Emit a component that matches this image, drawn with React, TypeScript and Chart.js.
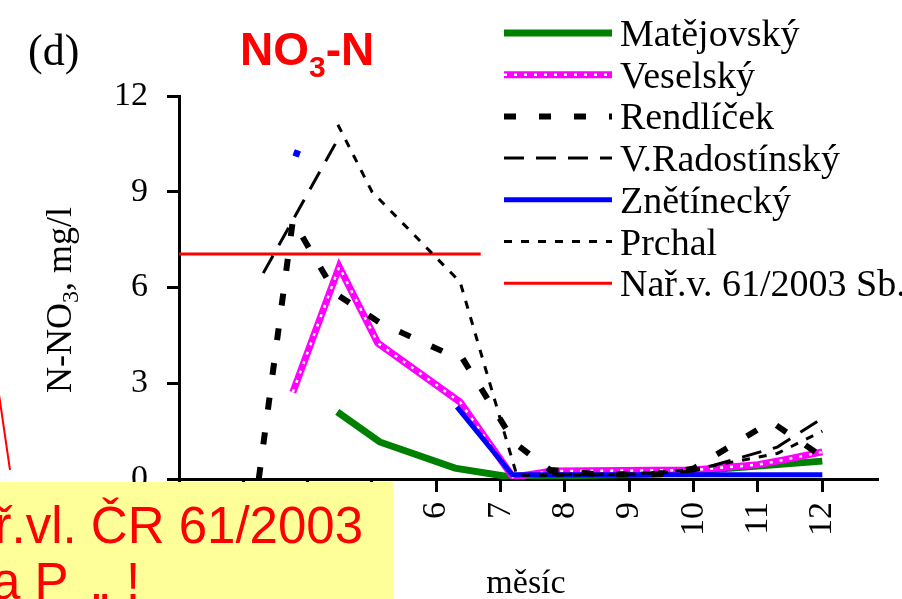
import { useEffect, useRef } from 'react';
import { Chart, registerables } from 'chart.js';

Chart.register(...registerables);

// Axis ticks
const MONTH_TICKS = [2, 3, 4, 5, 6, 7, 8, 9, 10, 11, 12];
const MONTH_MIN = 2;
const MONTH_MAX = 12.85;
const CONC_TICKS = [0, 3, 6, 9, 12];

// N-NO3 (mg/l) per sampling time (month) for each stream
const MATEJOVSKY_MONTH = [4.46, 5.12, 6.29, 7.1, 8, 9.3, 10, 12];
const MATEJOVSKY_N = [2.1, 1.16, 0.34, 0.08, 0.1, 0.15, 0.25, 0.56];

const VESELSKY_MONTH = [3.77, 4.49, 5.09, 6.37, 7.19, 7.8, 10, 11, 11.4, 12];
const VESELSKY_N = [2.72, 6.65, 4.26, 2.41, 0.06, 0.25, 0.28, 0.45, 0.6, 0.85];

const RENDLICEK_MONTH = [3.24, 3.77, 4.44, 5.12, 6.1, 6.37, 7.22, 7.77, 8.5, 9.5, 10, 11.2, 12];
const RENDLICEK_N = [0, 8.1, 5.8, 4.9, 4.0, 3.9, 1.13, 0.28, 0.15, 0.15, 0.33, 1.8, 0.7];

const RADOSTINSKY_MONTH = [3.31, 4.43, 6, 7.8, 9, 10, 11.3, 12];
const RADOSTINSKY_N = [6.45, 10.5, null, 0.15, 0.15, 0.25, 1.0, 1.9];

const ZNETINECKY_MONTH = [3.83, 5, 6.32, 7.18, 8, 9, 10, 11, 12];
const ZNETINECKY_N = [10.2, null, 2.26, 0.13, 0.13, 0.13, 0.13, 0.13, 0.13];

const PRCHAL_MONTH = [4.47, 5.0, 6.37, 7.25, 8, 9, 10, 11.3, 12];
const PRCHAL_N = [11.1, 9.0, 6.17, 0.12, 0.12, 0.15, 0.3, 0.8, 1.5];

// Limit from Nařízení vlády 61/2003 Sb.
const LIMIT_MONTH = [2, 6.69];
const LIMIT_N = [7.05, 7.05];

const SERIF = "'Liberation Serif', 'Times New Roman', serif";
const SANS = "'Liberation Sans', Arial, sans-serif";

const pts = (xs: number[], ys: (number | null)[]) => xs.map((x, i) => ({ x, y: ys[i] }));

// Show a marker only where a value has no neighbours to connect to
const isolated = (ys: (number | null)[]) => (c: any) => {
  const i = c.dataIndex;
  const prev = i > 0 ? ys[i - 1] : null;
  const next = i < ys.length - 1 ? ys[i + 1] : null;
  return ys[i] != null && prev == null && next == null ? 4 : 0;
};

type Run = { text: string; font: string; dy: number };

function drawRuns(ctx: CanvasRenderingContext2D, runs: Run[], x: number, y: number, center: boolean) {
  let total = 0;
  for (const r of runs) {
    ctx.font = r.font;
    total += ctx.measureText(r.text).width;
  }
  let cx = center ? x - total / 2 : x;
  ctx.textAlign = 'left';
  for (const r of runs) {
    ctx.font = r.font;
    ctx.fillText(r.text, cx, y + r.dy);
    cx += ctx.measureText(r.text).width;
  }
}

const decorations = {
  id: 'decorations',
  afterDraw(chart: any) {
    const ctx: CanvasRenderingContext2D = chart.ctx;
    ctx.save();
    ctx.textBaseline = 'alphabetic';

    // panel letter
    ctx.fillStyle = '#000';
    ctx.font = `44px ${SERIF}`;
    ctx.textAlign = 'left';
    ctx.fillText('(d)', 28, 65);

    // chart title
    ctx.fillStyle = '#FF0000';
    drawRuns(ctx, [
      { text: 'NO', font: `bold 46px ${SANS}`, dy: 0 },
      { text: '3', font: `bold 30px ${SANS}`, dy: 12 },
      { text: '-N', font: `bold 46px ${SANS}`, dy: 0 },
    ], 240, 65, false);

    // y-axis title
    ctx.fillStyle = '#000';
    ctx.save();
    ctx.translate(71, 300);
    ctx.rotate(-Math.PI / 2);
    drawRuns(ctx, [
      { text: 'N-NO', font: `36px ${SERIF}`, dy: 0 },
      { text: '3', font: `24px ${SERIF}`, dy: 7 },
      { text: ', mg/l', font: `36px ${SERIF}`, dy: 0 },
    ], 0, 0, true);
    ctx.restore();

    // x-axis title
    ctx.font = `34px ${SERIF}`;
    ctx.textAlign = 'center';
    ctx.fillText('měsíc', 526, 593);

    // legend
    const sx0 = 504;
    const sx1 = 612;
    let row = -1;
    chart.data.datasets.forEach((ds: any) => {
      if (ds.label) row += 1;
      const ly = 33 + 41.7 * row;
      ctx.save();
      ctx.strokeStyle = ds.borderColor;
      ctx.lineWidth = ds.borderWidth;
      ctx.setLineDash(ds.borderDash || []);
      ctx.lineCap = 'butt';
      ctx.beginPath();
      ctx.moveTo(sx0, ly);
      ctx.lineTo(sx1, ly);
      ctx.stroke();
      ctx.restore();
      if (ds.label) {
        ctx.fillStyle = '#000';
        ctx.font = `38px ${SERIF}`;
        ctx.textAlign = 'left';
        ctx.fillText(ds.label, 620, ly + 13);
      }
    });

    // callout pointer
    ctx.strokeStyle = '#FF0000';
    ctx.lineWidth = 2;
    ctx.setLineDash([]);
    ctx.beginPath();
    ctx.moveTo(-6, 360);
    ctx.lineTo(10, 470);
    ctx.stroke();

    // callout box
    ctx.fillStyle = '#FFFF99';
    ctx.fillRect(0, 482, 393, 117);
    ctx.fillStyle = '#FF0000';
    ctx.font = `51px ${SANS}`;
    ctx.textAlign = 'right';
    ctx.fillText('Nař.vl. ČR 61/2003', 363, 543);
    ctx.textAlign = 'left';
    ctx.fillText('a P', -8, 599);
    ctx.fillText('„', 92, 599);
    ctx.fillText('!', 126, 599);

    ctx.restore();
  },
};

export default function App() {
  const ref = useRef<HTMLCanvasElement>(null);

  useEffect(() => {
    const canvas = ref.current;
    if (!canvas) return;
    const tickFont = { family: SERIF, size: 34 };
    const veselsky = pts(VESELSKY_MONTH, VESELSKY_N);
    const chart = new Chart(canvas, {
      type: 'line',
      data: {
        datasets: [
          { label: 'Matějovský', data: pts(MATEJOVSKY_MONTH, MATEJOVSKY_N), borderColor: '#008000', borderWidth: 7, order: 6 },
          { label: 'Veselský', data: veselsky, borderColor: '#FF00FF', borderWidth: 7, order: 5 },
          { label: '', data: veselsky, borderColor: '#FFFFFF', borderWidth: 2.5, borderDash: [3, 7], order: 4 },
          { label: 'Rendlíček', data: pts(RENDLICEK_MONTH, RENDLICEK_N), borderColor: '#000000', borderWidth: 6, borderDash: [12, 23], order: 0 },
          { label: 'V.Radostínský', data: pts(RADOSTINSKY_MONTH, RADOSTINSKY_N), borderColor: '#000000', borderWidth: 3, borderDash: [20, 12], order: 1 },
          {
            label: 'Znětínecký', data: pts(ZNETINECKY_MONTH, ZNETINECKY_N), borderColor: '#0000FF', borderWidth: 5, order: 3,
            pointRadius: isolated(ZNETINECKY_N), pointStyle: 'rect', pointRotation: 20,
            pointBackgroundColor: '#0000FF', pointBorderColor: '#0000FF', pointBorderWidth: 1,
          },
          { label: 'Prchal', data: pts(PRCHAL_MONTH, PRCHAL_N), borderColor: '#000000', borderWidth: 3, borderDash: [8, 9], order: 2 },
          { label: 'Nař.v. 61/2003 Sb.', data: pts(LIMIT_MONTH, LIMIT_N), borderColor: '#FF0000', borderWidth: 3, order: 7 },
        ] as any,
      },
      options: {
        responsive: false,
        animation: false,
        devicePixelRatio: 1,
        events: [],
        layout: { padding: { top: 96, right: 25, left: 0, bottom: 0 } },
        elements: {
          line: { tension: 0, fill: false },
          point: { radius: 0, hoverRadius: 0 },
        },
        plugins: {
          legend: { display: false },
          tooltip: { enabled: false },
          title: { display: false },
        },
        scales: {
          x: {
            type: 'linear',
            min: MONTH_MIN,
            max: MONTH_MAX,
            afterBuildTicks: (s: any) => { s.ticks = MONTH_TICKS.map((v) => ({ value: v })); },
            afterFit: (s: any) => { s.height = 120; },
            grid: { drawOnChartArea: false, drawTicks: true, tickLength: 13, color: '#000', lineWidth: 3 },
            border: { display: true, color: '#000', width: 3 },
            ticks: { color: '#000', font: tickFont, padding: 10, minRotation: 90, maxRotation: 90, autoSkip: false },
          },
          y: {
            type: 'linear',
            min: 0,
            max: 12,
            afterBuildTicks: (s: any) => { s.ticks = CONC_TICKS.map((v) => ({ value: v })); },
            afterFit: (s: any) => { s.width = 179; },
            grid: { drawOnChartArea: false, drawTicks: true, tickLength: 12, color: '#000', lineWidth: 3 },
            border: { display: true, color: '#000', width: 3 },
            ticks: { color: '#000', font: tickFont, padding: 19 },
          },
        },
      } as any,
      plugins: [decorations],
    });
    return () => chart.destroy();
  }, []);

  return (
    <div style={{ position: 'absolute', left: 0, top: 0, width: 902, height: 599, background: '#fff' }}>
      <canvas ref={ref} width={902} height={599} style={{ display: 'block', width: 902, height: 599 }} />
    </div>
  );
}
